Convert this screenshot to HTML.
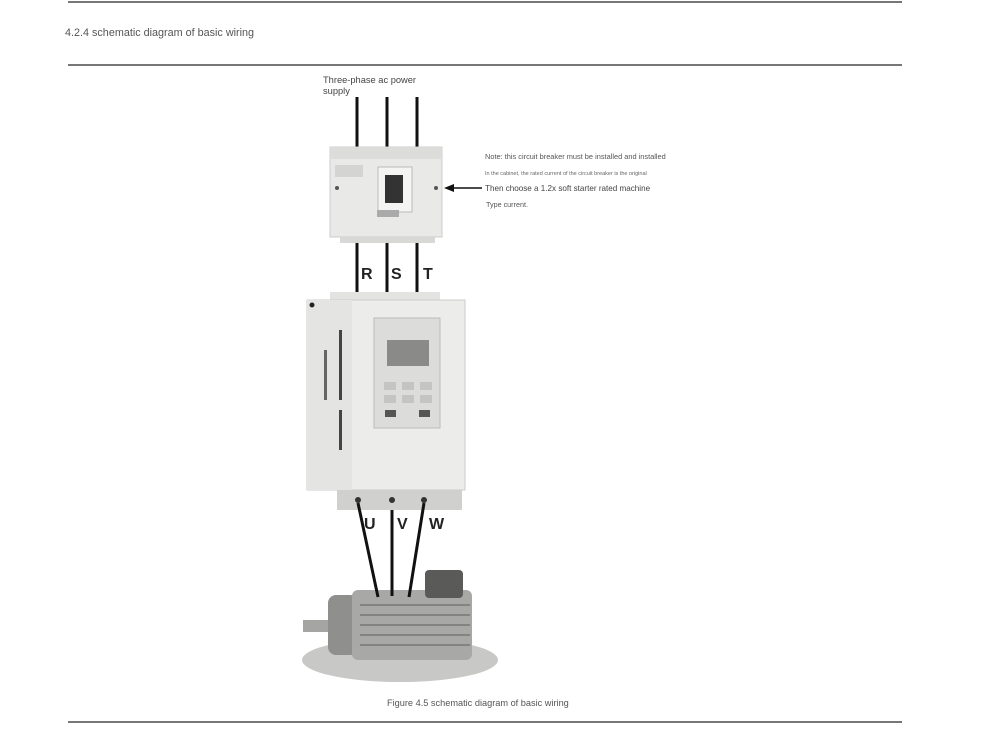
<!DOCTYPE html>
<html><head><meta charset="utf-8"><style>
html,body{margin:0;padding:0;background:#fff;}
svg{display:block;font-family:"Liberation Sans",sans-serif;}
</style></head><body>
<svg width="990" height="733" viewBox="0 0 990 733" xmlns="http://www.w3.org/2000/svg">
<rect width="990" height="733" fill="#fff"/>
<line x1="68" y1="2" x2="902" y2="2" stroke="#777" stroke-width="2"/>
<line x1="68" y1="65" x2="902" y2="65" stroke="#777" stroke-width="2"/>
<line x1="68" y1="722" x2="902" y2="722" stroke="#777" stroke-width="2"/>
<text x="65" y="36" font-size="10.8" fill="#555">4.2.4 schematic diagram of basic wiring</text>
<text x="323" y="83" font-size="9.3" fill="#444">Three-phase ac power</text>
<text x="323" y="94" font-size="9.3" fill="#444">supply</text>

<!-- wires behind breaker -->
<g stroke="#111" stroke-width="3">
<line x1="357" y1="97" x2="357" y2="295"/><line x1="387" y1="97" x2="387" y2="295"/><line x1="417" y1="97" x2="417" y2="295"/>
</g>

<!-- breaker -->
<rect x="330" y="147" width="112" height="90" fill="#e9e9e7" stroke="#ccc"/>
<rect x="330" y="147" width="112" height="12" fill="#dcdcda"/>
<rect x="340" y="237" width="95" height="6" fill="#d8d8d6"/>
<rect x="378" y="167" width="34" height="45" fill="#f4f4f2" stroke="#bbb"/>
<rect x="385" y="175" width="18" height="28" fill="#333"/>
<rect x="377" y="210" width="22" height="7" fill="#aaa"/>
<rect x="335" y="165" width="28" height="12" fill="#d4d4d2"/>
<circle cx="337" cy="188" r="2" fill="#555"/><circle cx="436" cy="188" r="2" fill="#555"/>

<!-- soft starter -->
<rect x="330" y="292" width="110" height="8" fill="#e3e3e1"/>
<rect x="307" y="300" width="158" height="190" fill="#ececea" stroke="#ccc"/>
<rect x="307" y="300" width="45" height="190" fill="#e4e4e2"/>
<circle cx="312" cy="305" r="2.5" fill="#222"/>
<rect x="339" y="330" width="3" height="70" fill="#444"/>
<rect x="324" y="350" width="3" height="50" fill="#666"/>
<rect x="339" y="410" width="3" height="40" fill="#444"/>
<rect x="374" y="318" width="66" height="110" fill="#dcdcda" stroke="#bbb"/>
<rect x="387" y="340" width="42" height="26" fill="#8a8a88"/>
<g fill="#c4c4c2"><rect x="384" y="382" width="12" height="8"/><rect x="402" y="382" width="12" height="8"/><rect x="420" y="382" width="12" height="8"/><rect x="384" y="395" width="12" height="8"/><rect x="402" y="395" width="12" height="8"/><rect x="420" y="395" width="12" height="8"/></g>
<rect x="385" y="410" width="11" height="7" fill="#555"/><rect x="419" y="410" width="11" height="7" fill="#555"/>
<rect x="337" y="490" width="125" height="20" fill="#d0d0ce"/>
<circle cx="358" cy="500" r="3" fill="#333"/><circle cx="392" cy="500" r="3" fill="#333"/><circle cx="424" cy="500" r="3" fill="#333"/>

<!-- motor -->
<ellipse cx="400" cy="660" rx="98" ry="22" fill="#c8c8c6"/>
<rect x="303" y="620" width="30" height="12" fill="#a5a5a3"/>
<rect x="328" y="595" width="30" height="60" rx="8" fill="#8f8f8d"/>
<rect x="352" y="590" width="120" height="70" rx="6" fill="#a8a8a6"/>
<g stroke="#777" stroke-width="1.5"><line x1="360" y1="605" x2="470" y2="605"/><line x1="360" y1="615" x2="470" y2="615"/><line x1="360" y1="625" x2="470" y2="625"/><line x1="360" y1="635" x2="470" y2="635"/><line x1="360" y1="645" x2="470" y2="645"/></g>
<rect x="425" y="570" width="38" height="28" rx="4" fill="#5a5a58"/>

<g stroke="#111" stroke-width="3">
<line x1="358" y1="503" x2="378" y2="597"/><line x1="392" y1="510" x2="392" y2="596"/><line x1="424" y1="503" x2="409" y2="597"/>
</g>
<g font-size="16" font-weight="bold" fill="#222">
<text x="361" y="279">R</text><text x="391" y="279">S</text><text x="423" y="279">T</text>
<text x="364" y="529">U</text><text x="397" y="529">V</text><text x="429" y="529">W</text>
</g>

<!-- note -->
<line x1="482" y1="188" x2="452" y2="188" stroke="#111" stroke-width="1.5"/>
<polygon points="444,188 454,184 454,192" fill="#111"/>
<text x="485" y="159" font-size="7.4" fill="#555">Note: this circuit breaker must be installed and installed</text>
<text x="485" y="175" font-size="5.5" fill="#666">In the cabinet, the rated current of the circuit breaker is the original</text>
<text x="485" y="191" font-size="8.1" fill="#444">Then choose a 1.2x soft starter rated machine</text>
<text x="486" y="207" font-size="7.2" fill="#555">Type current.</text>

<text x="387" y="706" font-size="9.2" fill="#555">Figure 4.5 schematic diagram of basic wiring</text>
</svg>
</body></html>
